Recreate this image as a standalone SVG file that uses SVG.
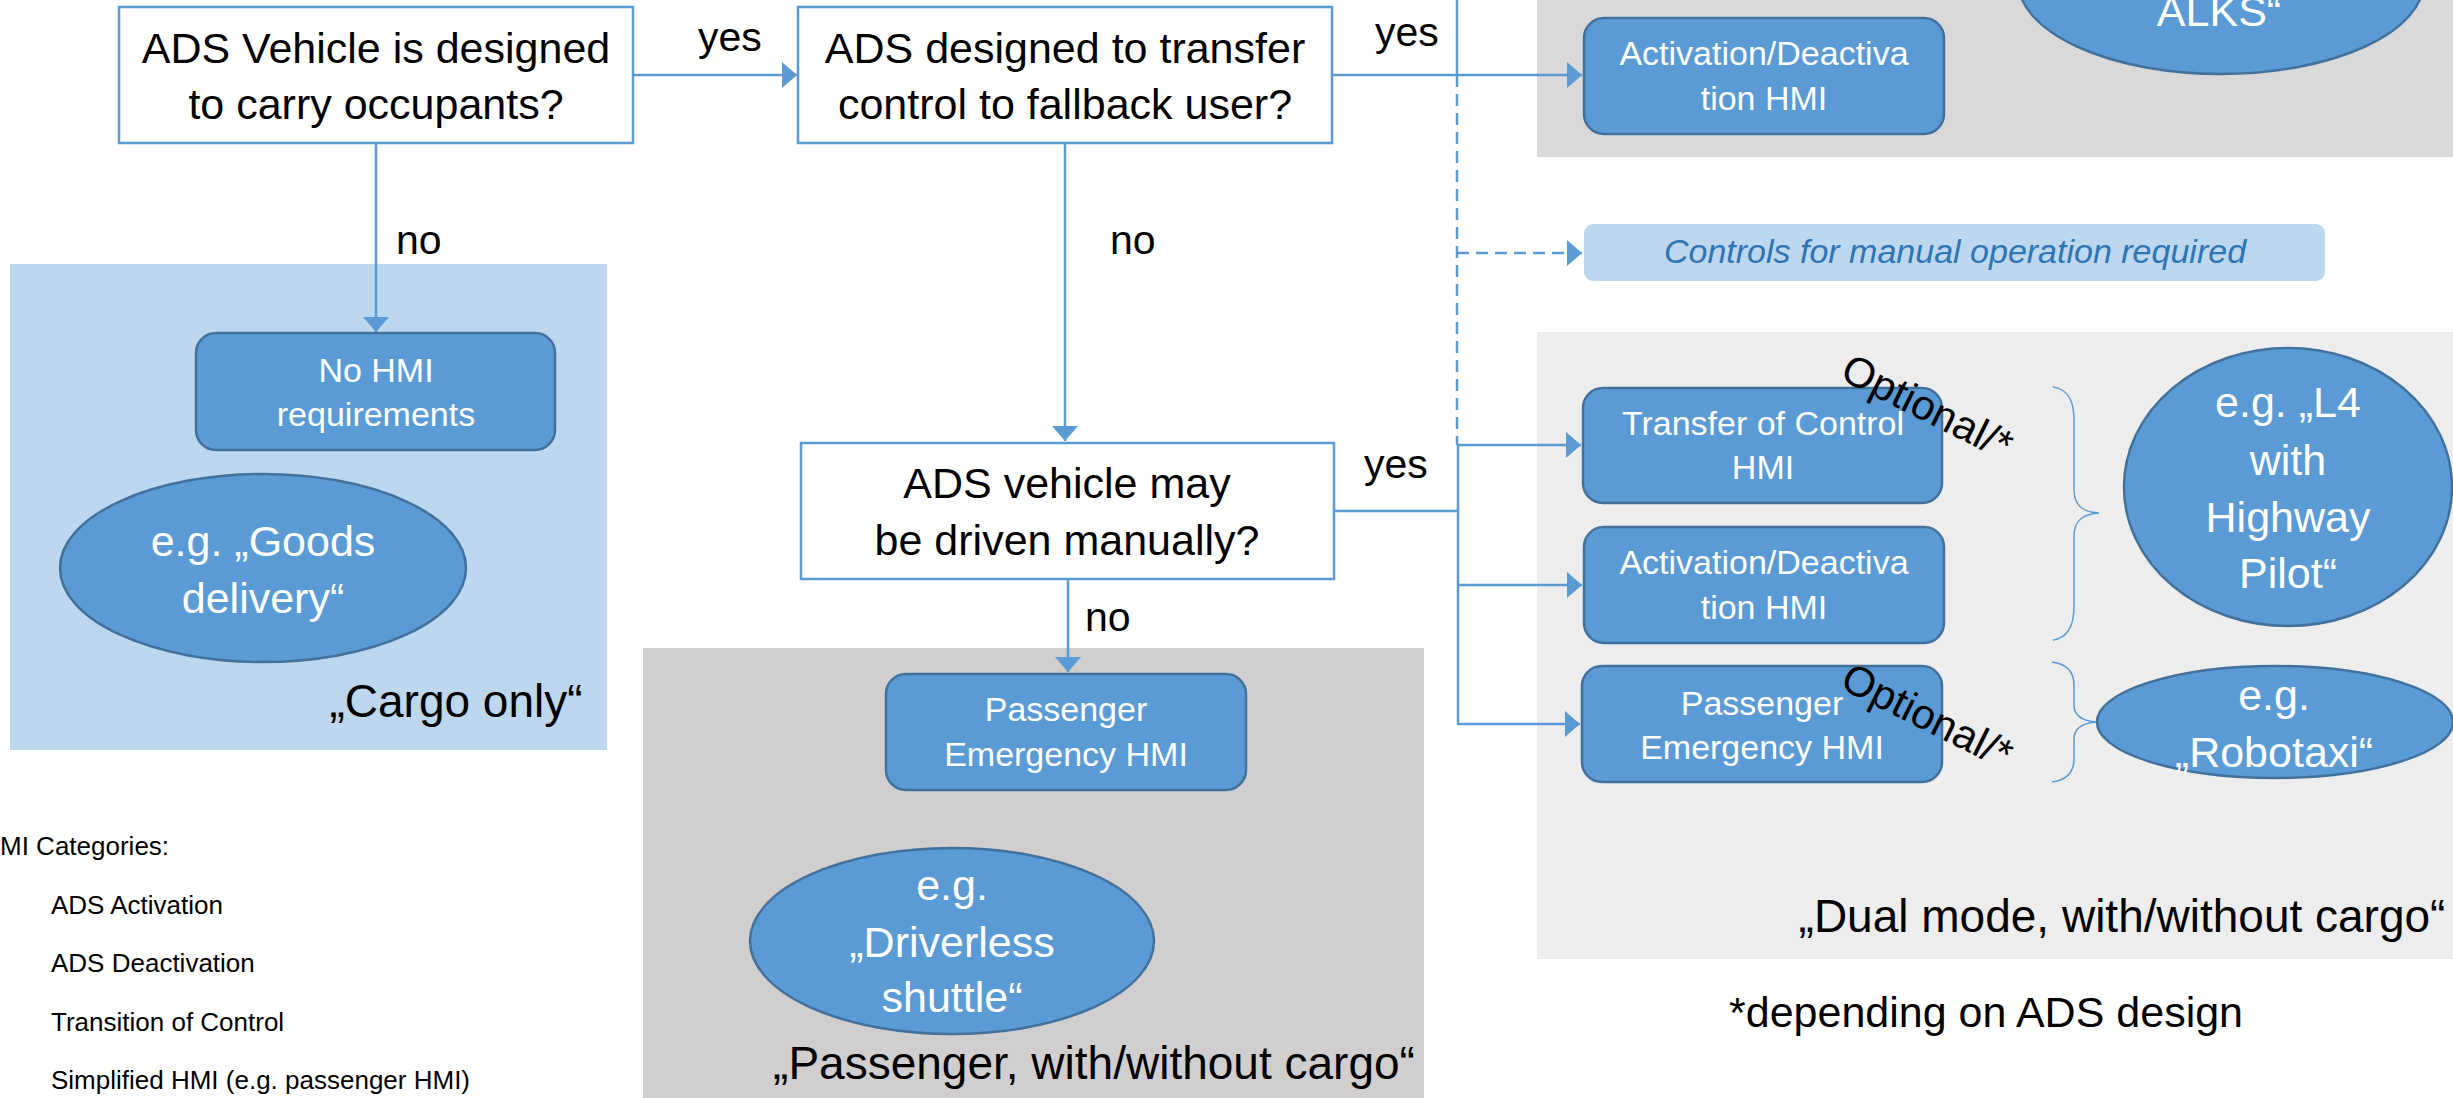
<svg xmlns="http://www.w3.org/2000/svg" width="2453" height="1098" viewBox="0 0 2453 1098">
<style>
text{font-family:"Liberation Sans",Arial,sans-serif}
.dec{fill:#fff;stroke:#5B9BD5;stroke-width:2.5}
.dt{font-size:43px;fill:#000;text-anchor:middle}
.hmi{fill:#5B9BD5;stroke:#41719C;stroke-width:2.5}
.ht{font-size:34px;fill:#fff;text-anchor:middle}
.ell{fill:#5B9BD5;stroke:#41719C;stroke-width:2.5}
.et{font-size:43px;fill:#fff;text-anchor:middle}
.lbl{font-size:41px;fill:#000}
.cap{font-size:46px;fill:#000;text-anchor:middle}
.leg{font-size:26px;fill:#000}
.opt{font-size:42px;fill:#000}
.con{fill:none;stroke:#5B9BD5;stroke-width:2.5}
.dash{stroke-dasharray:12 7}
.brace{fill:none;stroke:#5B9BD5;stroke-width:1.5}
</style>
<defs>
<marker id="arr" markerUnits="userSpaceOnUse" markerWidth="16" markerHeight="26" refX="15" refY="13" orient="auto" viewBox="0 0 16 26">
<path d="M0,0 L15,13 L0,26 Z" fill="#5B9BD5"/>
</marker>
</defs>

<g id="panels">
<rect x="10" y="264" width="597" height="486" fill="#BDD7EE"/>
<rect x="643" y="648" width="781" height="450" fill="#D0CECE"/>
<rect x="1537" y="0" width="916" height="157" fill="#D9D9D9"/>
<rect x="1537" y="332" width="916" height="627" fill="#EDEDED"/>
</g>

<g id="connectors">
<line class="con" x1="633" y1="75" x2="797" y2="75" marker-end="url(#arr)"/>
<line class="con" x1="376" y1="143" x2="376" y2="332" marker-end="url(#arr)"/>
<line class="con" x1="1332" y1="75" x2="1582" y2="75" marker-end="url(#arr)"/>
<line class="con" x1="1457" y1="0" x2="1457" y2="75"/>
<line class="con dash" x1="1457" y1="75" x2="1457" y2="445"/>
<line class="con dash" x1="1457" y1="253" x2="1582" y2="253" marker-end="url(#arr)"/>
<line class="con" x1="1065" y1="143" x2="1065" y2="441" marker-end="url(#arr)"/>
<line class="con" x1="1334" y1="511" x2="1458" y2="511"/>
<line class="con" x1="1458" y1="445" x2="1458" y2="725"/>
<line class="con" x1="1457" y1="445" x2="1581" y2="445" marker-end="url(#arr)"/>
<line class="con" x1="1457" y1="585" x2="1582" y2="585" marker-end="url(#arr)"/>
<line class="con" x1="1457" y1="724" x2="1580" y2="724" marker-end="url(#arr)"/>
<line class="con" x1="1068" y1="579" x2="1068" y2="672" marker-end="url(#arr)"/>
<text class="lbl" x="698" y="51">yes</text>
<text class="lbl" x="1375" y="46">yes</text>
<text class="lbl" x="1364" y="478">yes</text>
<text class="lbl" x="396" y="254">no</text>
<text class="lbl" x="1110" y="254">no</text>
<text class="lbl" x="1085" y="631">no</text>
</g>

<g id="q1">
<rect class="dec" x="119" y="7" width="514" height="136"/>
<text class="dt" x="376" y="63">ADS Vehicle is designed</text>
<text class="dt" x="376" y="119">to carry occupants?</text>
</g>
<g id="q2">
<rect class="dec" x="798" y="7" width="534" height="136"/>
<text class="dt" x="1065" y="63">ADS designed to transfer</text>
<text class="dt" x="1065" y="119">control to fallback user?</text>
</g>
<g id="q3">
<rect class="dec" x="801" y="443" width="533" height="136"/>
<text class="dt" x="1067" y="498">ADS vehicle may</text>
<text class="dt" x="1067" y="555">be driven manually?</text>
</g>

<g id="no-hmi">
<rect class="hmi" x="196" y="333" width="359" height="117" rx="20"/>
<text class="ht" x="376" y="382">No HMI</text>
<text class="ht" x="376" y="426">requirements</text>
</g>
<g id="goods">
<ellipse class="ell" cx="263" cy="568" rx="203" ry="94"/>
<text class="et" x="263" y="556">e.g. „Goods</text>
<text class="et" x="263" y="613">delivery“</text>
</g>
<text class="cap" x="456" y="717" font-size="44">„Cargo only“</text>

<g id="legend">
<text class="leg" x="0" y="855">MI Categories:</text>
<text class="leg" x="51" y="914">ADS Activation</text>
<text class="leg" x="51" y="972">ADS Deactivation</text>
<text class="leg" x="51" y="1031">Transition of Control</text>
<text class="leg" x="51" y="1089">Simplified HMI (e.g. passenger HMI)</text>
</g>

<g id="pass-mid">
<rect class="hmi" x="886" y="674" width="360" height="116" rx="20"/>
<text class="ht" x="1066" y="721">Passenger</text>
<text class="ht" x="1066" y="766">Emergency HMI</text>
</g>
<g id="shuttle">
<ellipse class="ell" cx="952" cy="941" rx="202" ry="93"/>
<text class="et" x="952" y="900">e.g.</text>
<text class="et" x="952" y="957">„Driverless</text>
<text class="et" x="952" y="1012">shuttle“</text>
</g>
<text class="cap" x="1094" y="1079">„Passenger, with/without cargo“</text>

<g id="alks">
<ellipse class="ell" cx="2221" cy="-19" rx="203" ry="93"/>
<text class="et" x="2219" y="26">ALKS“</text>
</g>
<g id="act1">
<rect class="hmi" x="1584" y="18" width="360" height="116" rx="20"/>
<text class="ht" x="1764" y="65">Activation/Deactiva</text>
<text class="ht" x="1764" y="110">tion HMI</text>
</g>
<g id="controls">
<rect x="1584" y="224" width="741" height="57" rx="9" fill="#BDD7EE"/>
<text x="1955" y="263" font-size="34" font-style="italic" fill="#2E75B6" text-anchor="middle">Controls for manual operation required</text>
</g>
<g id="toc">
<rect class="hmi" x="1583" y="388" width="359" height="115" rx="20"/>
<text class="ht" x="1763" y="435">Transfer of Control</text>
<text class="ht" x="1763" y="479">HMI</text>
</g>
<g id="act2">
<rect class="hmi" x="1584" y="527" width="360" height="116" rx="20"/>
<text class="ht" x="1764" y="574">Activation/Deactiva</text>
<text class="ht" x="1764" y="619">tion HMI</text>
</g>
<g id="pass-right">
<rect class="hmi" x="1582" y="666" width="360" height="116" rx="20"/>
<text class="ht" x="1762" y="715">Passenger</text>
<text class="ht" x="1762" y="759">Emergency HMI</text>
</g>
<text class="opt" transform="translate(1838.5 378.6) rotate(26.5)">Optional/*</text>
<text class="opt" transform="translate(1838.5 687.6) rotate(26.5)">Optional/*</text>
<g id="braces">
<path class="brace" d="M2053,387 C2068,389 2074,400 2074,420 L2074,490 C2074,505 2082,512 2099,513 C2082,514 2074,521 2074,536 L2074,606 C2074,626 2068,638 2053,640"/>
<path class="brace" d="M2052,662 C2067,664 2074,672 2074,685 L2074,705 C2074,716 2082,721 2097,722 C2082,723 2074,728 2074,739 L2074,759 C2074,772 2067,780 2052,782"/>
</g>
<g id="l4">
<ellipse class="ell" cx="2288" cy="487" rx="164" ry="139"/>
<text class="et" x="2288" y="417">e.g. „L4</text>
<text class="et" x="2288" y="475">with</text>
<text class="et" x="2288" y="532">Highway</text>
<text class="et" x="2288" y="588">Pilot“</text>
</g>
<g id="robotaxi">
<ellipse class="ell" cx="2275" cy="722" rx="178" ry="56"/>
<text class="et" x="2274" y="710">e.g.</text>
<text class="et" x="2274" y="767">„Robotaxi“</text>
</g>
<text class="cap" x="2122" y="932">„Dual mode, with/without cargo“</text>
<text x="1986" y="1027" font-size="43" fill="#000" text-anchor="middle">*depending on ADS design</text>
</svg>
